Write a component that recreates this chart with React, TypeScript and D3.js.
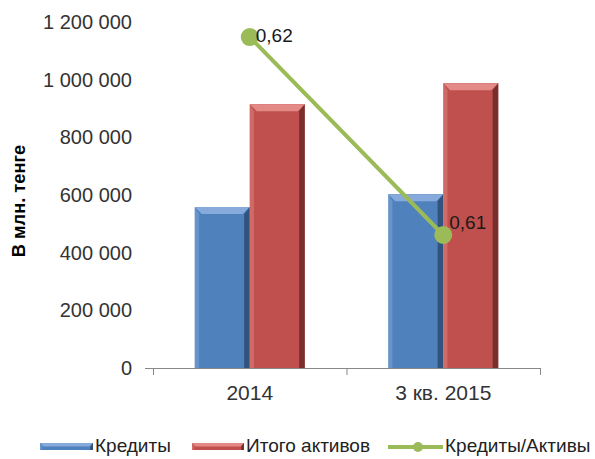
import React from "react";
import * as d3 from "d3";

const categories = ["2014", "3 кв. 2015"];
const credits = [558000, 603000];
const assets = [915000, 988000];
const ratio = [0.62, 0.61];
const ratioLabels = ["0,62", "0,61"];
const yTicks = [0, 200000, 400000, 600000, 800000, 1000000, 1200000];
const legendItems = ["Кредиты", "Итого активов", "Кредиты/Активы"];

const W = 595, H = 459;
const FONT = "'Liberation Sans', Arial, sans-serif";
const BLUE = { base: "#4F81BD", light: "#86AADB", dark: "#2C4B73" };
const RED = { base: "#C0504D", light: "#E38A87", dark: "#6B2826" };
const GREEN = "#9BBB59";

function Bevel({ x, y, w, h, c }: any) {
  const b = Math.min(7, h / 2);
  return (
    <g>
      <rect x={x} y={y} width={w} height={h} fill={c.base} />
      <polygon points={`${x},${y} ${x + w},${y} ${x + w - b},${y + b} ${x + b},${y + b}`} fill={c.light} />
      <polygon points={`${x},${y} ${x + b * 0.6},${y + b} ${x + b * 0.6},${y + h} ${x},${y + h}`} fill={c.light} opacity={0.45} />
      <polygon points={`${x + w},${y} ${x + w},${y + h} ${x + w - b * 0.8},${y + h} ${x + w - b * 0.8},${y + b}`} fill={c.dark} opacity={0.85} />
    </g>
  );
}

export default function App() {
  const y0 = 368, y1 = 22;
  const y = d3.scaleLinear().domain([0, 1200000]).range([y0, y1]);
  const y2 = d3.scaleLinear().domain([0.60328, 0.62076]).range([y0, y1]);
  const x = d3.scaleBand().domain(categories).range([153, 540]);
  const inner = d3.scaleBand().domain(["c", "a"]).range([0, 110]);
  const fmt = (v: number) => d3.format(",")(v).replace(/,/g, " ");
  const cx = (c: string) => (x(c) as number) + x.bandwidth() / 2;
  const line = d3.line<number>().x((_, i) => cx(categories[i])).y((d) => y2(d));
  const labelDy = [5, -6];

  return (
    <svg width={W} height={H} style={{ position: "absolute", left: 0, top: 0 }} fontFamily={FONT}>
      <rect width={W} height={H} fill="#fff" />
      {yTicks.map((t) => (
        <text key={t} x={132} y={y(t) + 7} textAnchor="end" fontSize={20} fill="#333">
          {fmt(t)}
        </text>
      ))}
      <text transform={`translate(25,201) rotate(-90)`} textAnchor="middle" fontSize={18.3} fontWeight="bold" fill="#000">
        В млн. тенге
      </text>
      {categories.map((c, i) => {
        const x0 = cx(c) - 55;
        return (
          <g key={c}>
            <Bevel x={x0 + (inner("c") as number)} y={y(credits[i])} w={inner.bandwidth()} h={y(0) - y(credits[i])} c={BLUE} />
            <Bevel x={x0 + (inner("a") as number)} y={y(assets[i])} w={inner.bandwidth()} h={y(0) - y(assets[i])} c={RED} />
          </g>
        );
      })}
      <line x1={145} x2={540} y1={y0 + 0.5} y2={y0 + 0.5} stroke="#888" strokeWidth={1} />
      {[153, 346.5, 540].map((tx) => (
        <line key={tx} x1={tx + 0.5} x2={tx + 0.5} y1={y0} y2={y0 + 7} stroke="#888" strokeWidth={1} />
      ))}
      {categories.map((c) => (
        <text key={c} x={cx(c)} y={400} textAnchor="middle" fontSize={21} fill="#333">{c}</text>
      ))}
      <path d={line(ratio) as string} fill="none" stroke={GREEN} strokeWidth={4} />
      {ratio.map((r, i) => (
        <g key={i}>
          <circle cx={cx(categories[i])} cy={y2(r)} r={9} fill={GREEN} />
          <text x={cx(categories[i]) + 6} y={y2(r) + labelDy[i]} fontSize={19} fill="#1a1a1a">{ratioLabels[i]}</text>
        </g>
      ))}
      {/* legend */}
      <g>
        <Bevel x={40} y={443} w={53} h={7} c={BLUE} />
        <text x={95} y={452} fontSize={19} fill="#222">{legendItems[0]}</text>
        <Bevel x={192} y={443} w={52} h={7} c={RED} />
        <text x={246} y={452} fontSize={19} fill="#222">{legendItems[1]}</text>
        <line x1={388} x2={443} y1={447} y2={447} stroke={GREEN} strokeWidth={4} />
        <circle cx={418} cy={447} r={5} fill={GREEN} />
        <text x={445} y={452} fontSize={19} fill="#222">{legendItems[2]}</text>
      </g>
    </svg>
  );
}
